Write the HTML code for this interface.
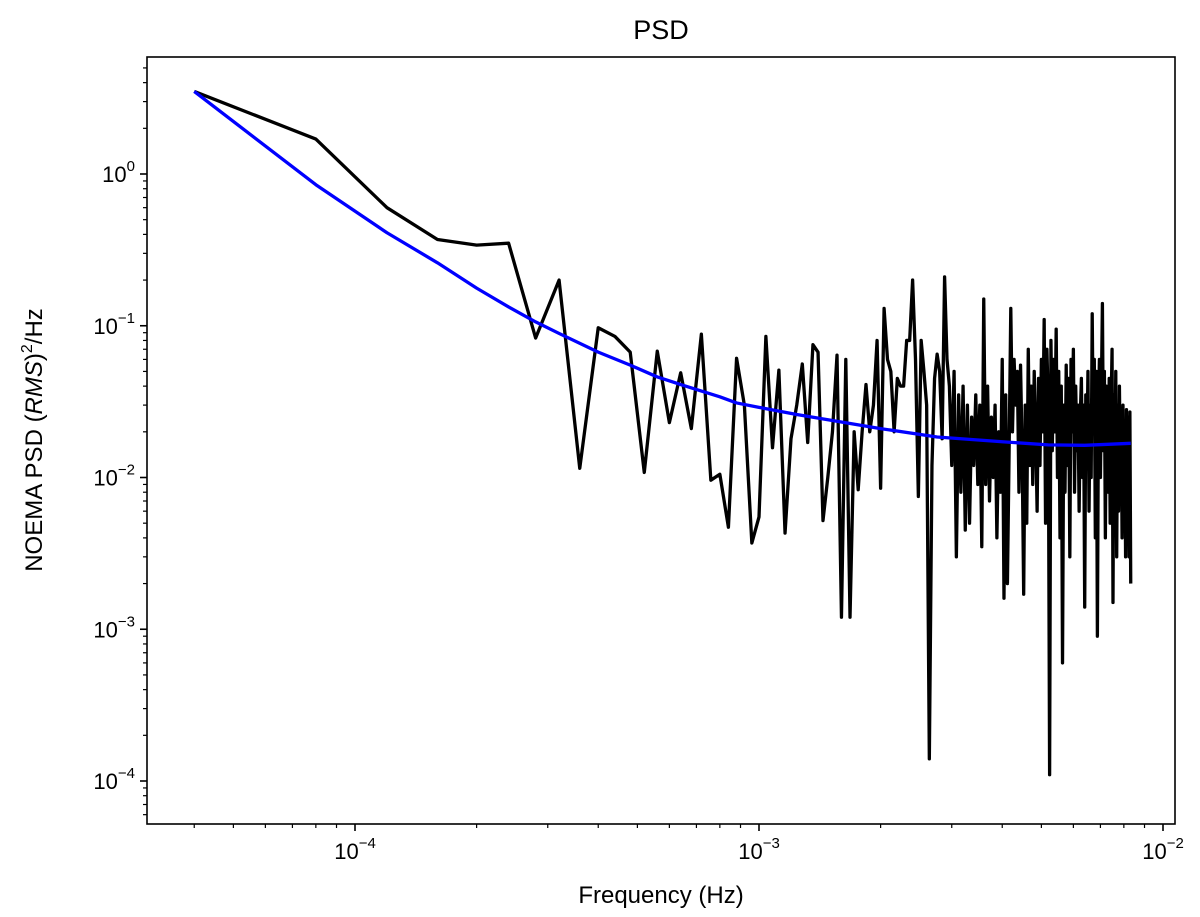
<!DOCTYPE html>
<html><head><meta charset="utf-8"><style>
html,body{margin:0;padding:0;background:#fff;}
svg{display:block;font-family:"Liberation Sans","DejaVu Sans",sans-serif;}
</style></head><body>
<svg id="chart" width="1200" height="917" viewBox="0 0 1200 917" xmlns="http://www.w3.org/2000/svg">
<rect x="0" y="0" width="1200" height="917" fill="#fff"/>
<text x="661" y="39" text-anchor="middle" font-size="27">PSD</text>
<text x="661" y="903" text-anchor="middle" font-size="24">Frequency (Hz)</text>
<text transform="translate(42,440) rotate(-90)" text-anchor="middle" font-size="24">NOEMA PSD (<tspan font-style="italic">RMS</tspan>)<tspan dy="-10" font-size="16">2</tspan><tspan dy="10">/Hz</tspan></text>
<g id="plot"></g>
</svg>
<script>
const baseFreq = 4e-5;
const psdValues = [3.5,1.7,0.6,0.37,0.34,0.35,0.083,0.2,0.0115,0.097,0.085,0.067,0.0108,0.068,0.023,0.049,0.021,0.088,0.0096,0.0105,0.0047,0.061,0.03,0.0037,0.0055,
0.085,0.0157,0.051,0.0043,0.018,0.03,0.056,0.017,0.075,0.067,0.0052,0.01,0.02,0.064,0.0012,0.06,0.0012,0.02,0.0083,0.02,0.041,0.02,0.03,0.08,0.0085,0.13,0.06,0.05,0.02,0.045,0.04,0.04,0.08,0.08,0.2,0.06,0.0075,0.08,0.05,0.03,
0.00014,0.012,0.045,0.065,0.05,0.018,0.21,0.06,0.04,0.012,0.05,0.003,0.035,0.008,0.04,0.0045,0.03,0.005,0.025,0.012,0.035,0.009,0.03,0.0035,0.15,0.009,0.04,0.007,0.025,0.01,0.03,0.004,0.02,0.008,0.06,0.0016,0.035,0.002,0.015,0.13,0.02,0.06,0.03,0.05,0.008,0.055,0.015,0.0017,0.03,0.005,0.07,0.012,0.04,0.009,0.05,0.02,0.006,0.045,0.012,0.06,0.02,0.11,0.005,0.07,0.03,0.00011,0.08,0.015,0.06,0.02,0.095,0.01,0.05,0.004,0.04,0.0006,0.03,0.008,0.055,0.012,0.045,0.003,0.06,0.02,0.07,0.008,0.04,0.015,0.03,0.006,0.025,0.045,0.01,0.03,0.0014,0.035,0.015,0.05,0.006,0.03,0.01,0.12,0.02,0.06,0.004,0.05,0.0009,0.025,0.06,0.01,0.04,0.14,0.015,0.05,0.004,0.04,0.02,0.008,0.045,0.005,0.03,0.07,0.0015,0.035,0.01,0.05,0.003,0.03,0.006,0.04,0.012,0.025,0.004,0.03,0.007,0.02,0.003,0.028,0.005,0.025,0.003,0.027,0.002];
const modelK = [1,2,3,4,5,6,7,8,10,12,14,16,20,22,25,31,50,69,100,130,160,208];
const modelValues = [3.5,0.85,0.41,0.26,0.177,0.133,0.106,0.089,0.067,0.055,0.046,0.041,0.034,0.031,0.029,0.026,0.021,0.0185,0.0172,0.0164,0.0163,0.0168];
const yTickExps = [0,-1,-2,-3,-4];
const xTickExps = [-4,-3,-2];

const L=147,R=1175,T=57,B=824;
const xLo=-4-208/404, xHi=-2+12/404;
const yHi=0+(174-57)/151.75, yLo=-4-(824-781)/151.75;
const X=f=>L+(Math.log10(f)-xLo)/(xHi-xLo)*(R-L);
const Y=v=>T+(yHi-Math.log10(v))/(yHi-yLo)*(B-T);
const NS="http://www.w3.org/2000/svg";
const g=document.getElementById('plot');
function mk(tag,attrs){const e=document.createElementNS(NS,tag);for(const k in attrs)e.setAttribute(k,attrs[k]);g.appendChild(e);return e;}

const defs=mk('defs',{});
const cp=document.createElementNS(NS,'clipPath');cp.setAttribute('id','clip');
const cr=document.createElementNS(NS,'rect');cr.setAttribute('x',L);cr.setAttribute('y',T);cr.setAttribute('width',R-L);cr.setAttribute('height',B-T);
cp.appendChild(cr);defs.appendChild(cp);

let d='';psdValues.forEach((v,i)=>{const f=baseFreq*(i+1);d+=(i?'L':'M')+X(f).toFixed(2)+','+Y(v).toFixed(2);});
const pl=mk('path',{d:d,fill:'none',stroke:'#000','stroke-width':3.3,'stroke-linejoin':'round','clip-path':'url(#clip)'});


let d2='';modelK.forEach((k,i)=>{d2+=(i?'L':'M')+X(baseFreq*k).toFixed(2)+','+Y(modelValues[i]).toFixed(2);});
const ml=mk('path',{d:d2,fill:'none',stroke:'#0000ff','stroke-width':3.3,'stroke-linejoin':'round','clip-path':'url(#clip)'});



const fr=mk('rect',{x:L,y:T,width:R-L,height:B-T,fill:'none',stroke:'#000','stroke-width':1.6});



for(let e=-5;e<=1;e++){for(let m=1;m<10;m++){const v=m*Math.pow(10,e);const y=Y(v);if(y<T-0.5||y>B+0.5)continue;
 const major=m===1;const t=mk('line',{x1:L,x2:L-(major?7:4),y1:y,y2:y,stroke:'#000','stroke-width':major?1.6:1.2});
 
 }}
yTickExps.forEach(e=>{const y=Y(Math.pow(10,e));const tx=mk('text',{x:L-12,y:y+8,'text-anchor':'end','font-size':22});
 
 
 tx.innerHTML='10<tspan dy="-11" font-size="15">'+(e<0?'\u2212'+(-e):e)+'</tspan>';});
for(let e=-5;e<=-1;e++){for(let m=1;m<10;m++){const v=m*Math.pow(10,e);const x=X(v);if(x<L-0.5||x>R+0.5)continue;
 const major=m===1;const t=mk('line',{x1:x,x2:x,y1:B,y2:B+(major?7:4),stroke:'#000','stroke-width':major?1.6:1.2});
 
 }}
xTickExps.forEach(e=>{const x=X(Math.pow(10,e));const tx=mk('text',{x:x,y:B+35,'text-anchor':'middle','font-size':22});
 
 
 tx.innerHTML='10<tspan dy="-11" font-size="15">\u2212'+(-e)+'</tspan>';});
</script>
</body></html>
